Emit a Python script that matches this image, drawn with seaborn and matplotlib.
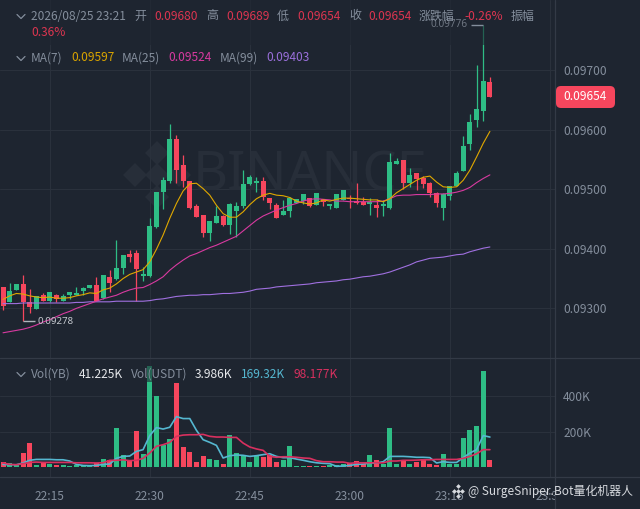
import numpy as np
import pandas as pd
import matplotlib
matplotlib.use("Agg")
import matplotlib.pyplot as plt
import seaborn as sns
from matplotlib.lines import Line2D
from matplotlib.patches import FancyBboxPatch, Rectangle
from matplotlib.transforms import IdentityTransform, Bbox

# prices are written in units of 0.00001
opens = [9336,9311,9330,9341,9311,9299,9323,9312,9323,9313,9323,9323,9329,9335,9339,9317,9352,9349,9368,9391,
         9393,9354,9355,9436,9496,9514,9584,9541,9514,9472,9456,9426,9444,9455,9440,9464,9471,9508,9511,9513,
         9486,9474,9456,9463,9477,9480,9486,9474,9484,9472,9469,9482,9486,9480,9478,9475,9473,9472,9468,9543,
         9549,9510,9527,9519,9510,9494,9469,9489,9506,9531,9576,9616,9631,9680]
closes = [9304,9329,9341,9310,9303,9320,9313,9327,9315,9320,9327,9325,9335,9339,9313,9356,9342,9368,9390,9387,
          9366,9358,9438,9496,9516,9584,9532,9514,9469,9454,9427,9446,9455,9440,9475,9472,9509,9521,9514,9487,
          9477,9451,9464,9485,9483,9492,9472,9493,9478,9475,9492,9499,9483,9476,9474,9478,9469,9475,9545,9548,
          9511,9524,9517,9509,9494,9477,9492,9506,9527,9572,9613,9635,9682,9654]
highs = [9336,9342,9341,9356,9332,9321,9326,9327,9324,9324,9327,9336,9336,9339,9352,9356,9364,9415,9390,9398,
         9398,9370,9451,9496,9520,9609,9591,9557,9514,9475,9456,9446,9471,9456,9477,9479,9532,9524,9521,9520,
         9486,9476,9482,9487,9483,9492,9486,9494,9484,9475,9492,9499,9491,9510,9487,9485,9484,9482,9560,9553,
         9549,9535,9527,9522,9512,9496,9494,9506,9531,9589,9626,9708,9776,9689]
lows = [9298,9311,9330,9278,9292,9299,9312,9311,9310,9312,9315,9322,9323,9335,9312,9315,9328,9348,9358,9377,
        9313,9346,9352,9435,9466,9510,9511,9504,9466,9453,9420,9413,9443,9439,9425,9420,9469,9507,9496,9482,
        9467,9451,9456,9453,9477,9475,9470,9474,9472,9467,9469,9482,9469,9475,9473,9456,9453,9455,9467,9543,
        9501,9503,9498,9502,9487,9470,9449,9482,9505,9531,9566,9604,9614,9654]
ma7 = [9315,9321,9325,9324,9321,9319,9318,9319,9317,9317,9318,9321,9323,9326,9325,9331,9334,9341,9350,9357,
       9361,9365,9378,9399,9423,9451,9476,9497,9509,9510,9501,9490,9473,9459,9453,9453,9462,9474,9484,9490,
       9493,9490,9489,9486,9480,9477,9475,9477,9482,9480,9483,9485,9485,9484,9483,9482,9482,9479,9484,9494,
       9501,9508,9515,9520,9522,9512,9504,9503,9504,9515,9532,9554,9577,9597]
ma25 = [9259,9261,9263,9265,9268,9272,9277,9281,9286,9291,9295,9300,9304,9308,9312,9316,9319,9322,9327,9331,
        9334,9335,9340,9346,9353,9364,9373,9381,9388,9392,9397,9402,9406,9411,9416,9421,9430,9439,9448,9455,
        9460,9465,9469,9473,9476,9480,9483,9484,9483,9482,9480,9480,9479,9479,9479,9479,9479,9480,9484,9489,
        9490,9490,9491,9491,9491,9492,9492,9493,9495,9498,9503,9511,9518,9524]
ma99 = [9308,9308,9308,9309,9309,9309,9309,9309,9309,9309,9309,9310,9310,9311,9311,9311,9311,9312,9312,9312,
        9312,9312,9313,9315,9316,9318,9320,9321,9322,9322,9323,9323,9324,9325,9325,9326,9327,9329,9332,9333,
        9334,9336,9337,9338,9339,9340,9341,9343,9344,9345,9346,9348,9349,9351,9353,9354,9356,9358,9361,9365,
        9369,9373,9378,9381,9384,9385,9386,9388,9390,9391,9395,9398,9401,9403]
# volumes in thousands
volume = [30,24,11,79,137,13,21,19,9,9,4,11,8,4,23,45,41,222,68,34,
          203,75,568,398,126,158,474,111,83,26,64,43,38,17,180,77,68,30,64,56,
          68,26,38,117,4,8,8,8,6,11,11,19,23,34,15,70,41,15,222,19,
          34,19,30,45,15,11,75,15,15,162,207,233,543,41]
vol_ma_a = [15,13,13,23,38,43,43,43,41,41,34,15,9,8,9,15,17,49,60,62,
            88,98,177,222,214,224,284,273,273,207,154,139,122,51,64,68,66,60,
            64,70,75,60,53,53,45,38,30,24,21,19,4,6,9,15,17,23,23,30,
            60,60,60,58,55,55,53,23,30,26,26,53,79,98,177,169]
vol_ma_b = [23,15,13,19,26,28,26,26,26,26,26,24,24,24,23,24,38,38,41,36,
            38,49,79,117,126,139,173,180,182,182,184,173,169,169,167,167,135,113,
            102,94,60,55,58,58,55,51,49,36,30,30,28,28,21,24,24,24,24,24,
            34,34,38,38,39,41,41,43,43,43,43,49,60,75,98,98]
price_ticks = [9700,9600,9500,9400,9300]
price_tick_labels = ["0.09700","0.09600","0.09500","0.09400","0.09300"]
vol_ticks = [400,200]
vol_tick_labels = ["400K","200K"]
time_ticks = [7,22,37,52,67,82]
time_tick_labels = ["22:15","22:30","22:45","23:00","23:15","23:30"]

BG = "#1e2530"; GRID = "#2a313c"; EDGE = "#333a46"; TXT = "#848e9c"
UP = "#2ebd85"; DOWN = "#f6465d"; DIMRED = "#dc3550"

sns.set_theme(style="dark", rc={"figure.facecolor": BG, "axes.facecolor": BG})
plt.rcParams["font.family"] = ["Noto Sans CJK SC", "DejaVu Sans"]

W, H = 640, 509
fig = plt.figure(figsize=(W/100, H/100), dpi=100)
def px_axes(x0, y0, x1, y1):
    return fig.add_axes([x0/W, 1-y1/H, (x1-x0)/W, (y1-y0)/H])
ax = px_axes(0, 0, 555, 358)
vx = px_axes(0, 358, 555, 477)

idx = np.arange(len(opens))
o, c, hi, lo = map(np.array, (opens, closes, highs, lows))
colors = np.where(c >= o, UP, DOWN)

# watermark
def wm(x, y, ms, color, target, z=0.5):
    target.plot([x], [H-y], marker="D", ms=ms, mew=0, color=color, transform=IdentityTransform(), zorder=z, clip_on=False)
for (x, y) in [(157,153),(135,175),(157,175),(179,175),(157,197)]:
    wm(x, y, 12, "#272e39", ax)
ax.annotate("BINANCE", xy=(310/555, 1-176/358), xycoords="axes fraction", ha="center", va="center",
            fontsize=39, fontweight="bold", color="#272e39", family="Noto Sans", zorder=0.6)

# candles
ax.vlines(idx, lo, hi, colors=colors, lw=0.9, zorder=2)
ax.bar(idx, np.abs(c-o), bottom=np.minimum(o, c), width=0.75, color=colors, edgecolor="none", linewidth=0, zorder=2.1)

# moving averages
for s, col in [(ma99, "#a070e0"), (ma25, "#d83aa0"), (ma7, "#e0a800")]:
    sns.lineplot(x=idx, y=s, ax=ax, color=col, lw=0.8, zorder=2.5, legend=False)

# extreme annotations
ax.hlines(9776, 70.1, 72, color="#848e9c", lw=1, zorder=5.5)
ax.text(69.7, 9776, "0.09776", color="#6f7783", fontsize=7.2, ha="right", va="center", family="Noto Sans", zorder=5.5)
ax.hlines(9278, 3, 4.8, color="#b0b5bd", lw=1, zorder=2.6)
ax.text(5.2, 9278, "0.09278", color="#c4c8ce", fontsize=7.0, ha="left", va="center", family="Noto Sans", zorder=2.6)

# dim legend band
ax.add_patch(Rectangle((0, 1-45/358), 535/555, 45/358, transform=ax.transAxes, color=BG, alpha=0.6, lw=0, zorder=5))

ax.set_xlim(-0.45, 82.76)
ax.set_ylim(9216.7, 9817.5)
ax.set_yticks(price_ticks); ax.set_yticklabels(price_tick_labels)
ax.set_xticks(time_ticks); ax.set_xticklabels([])

# volume
vdf = pd.DataFrame({"i": idx, "v": volume, "dir": np.where(c >= o, "up", "down")})
sns.barplot(data=vdf, x="i", y="v", hue="dir", palette={"up": UP, "down": DOWN}, native_scale=True,
            dodge=False, width=0.75, legend=False, ax=vx, zorder=2, saturation=1, edgecolor="none", linewidth=0)
sns.lineplot(x=idx, y=vol_ma_a, ax=vx, color="#55b7d0", lw=1.2, zorder=3, legend=False)
sns.lineplot(x=idx, y=vol_ma_b, ax=vx, color="#d8305f", lw=1.2, zorder=3.1, legend=False)
vx.add_patch(Rectangle((0, 1-24/119), 340/555, 24/119, transform=vx.transAxes, color=BG, alpha=0.6, lw=0, zorder=5))
vx.set_xlim(-0.45, 82.76)
vx.set_ylim(-56, 614)
vx.set_yticks(vol_ticks); vx.set_yticklabels(vol_tick_labels)
vx.set_xticks(time_ticks); vx.set_xticklabels(time_tick_labels)
vx.set_xlabel(""); vx.set_ylabel("")

for a in (ax, vx):
    a.set_facecolor(BG)
    a.grid(True, color=GRID, lw=0.8, zorder=0)
    a.set_axisbelow(True)
    a.yaxis.tick_right()
    a.tick_params(axis="y", length=0, pad=5.8, labelsize=8.6, labelcolor=TXT)
    a.tick_params(axis="x", length=0, pad=9, labelsize=8.6, labelcolor=TXT)
    for s in a.spines.values():
        s.set_visible(False)

# last time label is cut by the price-axis edge
clip = Bbox([[0, 0], [555, H]])
for lb in vx.get_xticklabels():
    lb.set_clip_box(clip); lb.set_clip_on(True)

# frame lines
for xs, ys in [((0, W), (358, 358)), ((0, W), (477, 477)), ((555, 555), (0, H))]:
    fig.add_artist(Line2D(xs, [H-v for v in ys], color=EDGE, lw=0.9, transform=IdentityTransform(), zorder=1))

# price tag
fig.add_artist(FancyBboxPatch((556, H-108), 59, 22, boxstyle="round,pad=0,rounding_size=5",
                              fc=DOWN, ec="none", transform=IdentityTransform(), zorder=2))
def T(x, y, s, color=TXT, fs=8.6, ha="left", **k):
    fig.text(x/W, 1-y/H, s, color=color, fontsize=fs, ha=ha, va="center", zorder=6, **k)
T(585.5, 97, "0.09654", "#ffffff", ha="center")

# legends
row1 = [(31,"2026/08/25 23:21",TXT),(134,"开",TXT),(154,"0.09680",DIMRED),(206,"高",TXT),(226,"0.09689",DIMRED),
        (277,"低",TXT),(297,"0.09654",DIMRED),(349,"收",TXT),(368,"0.09654",DIMRED),(419,"涨跌幅",TXT),
        (464,"-0.26%",DIMRED),(511,"振幅",TXT)]
for x, s, col in row1:
    T(x, 16, s, col)
T(31, 32.5, "0.36%", DIMRED)
row2 = [(31,"MA(7)",TXT),(71,"0.09597","#d9a400"),(122,"MA(25)",TXT),(168,"0.09524","#d83aa0"),
        (220,"MA(99)",TXT),(266,"0.09403","#9b70dc")]
for x, s, col in row2:
    T(x, 58, s, col)
row3 = [(31,"Vol(YB)",TXT),(79,"41.225K","#e6e8eb"),(131,"Vol(USDT)",TXT),(195,"3.986K","#e6e8eb"),
        (241,"169.32K","#55b7d0"),(293,"98.177K","#d8305f")]
for x, s, col in row3:
    T(x, 374, s, col)

for yy in (16, 58, 374):
    fig.add_artist(Line2D([17, 21, 25], [H-yy+1.5, H-yy-2.5, H-yy+1.5], color=TXT, lw=0.9,
                          transform=IdentityTransform(), zorder=6))

# author watermark
T(468, 491, "@ SurgeSniper.Bot量化机器人", "#d6d9de", fs=8.6)
for (x, y) in [(458,486),(454,491),(458,491),(462,491),(458,496)]:
    fig.add_artist(Line2D([x], [H-y], marker="D", ms=2.4, mew=0, color="#d6d9de", transform=IdentityTransform(), zorder=6))

fig.savefig("out.png", dpi=100, facecolor=BG)
